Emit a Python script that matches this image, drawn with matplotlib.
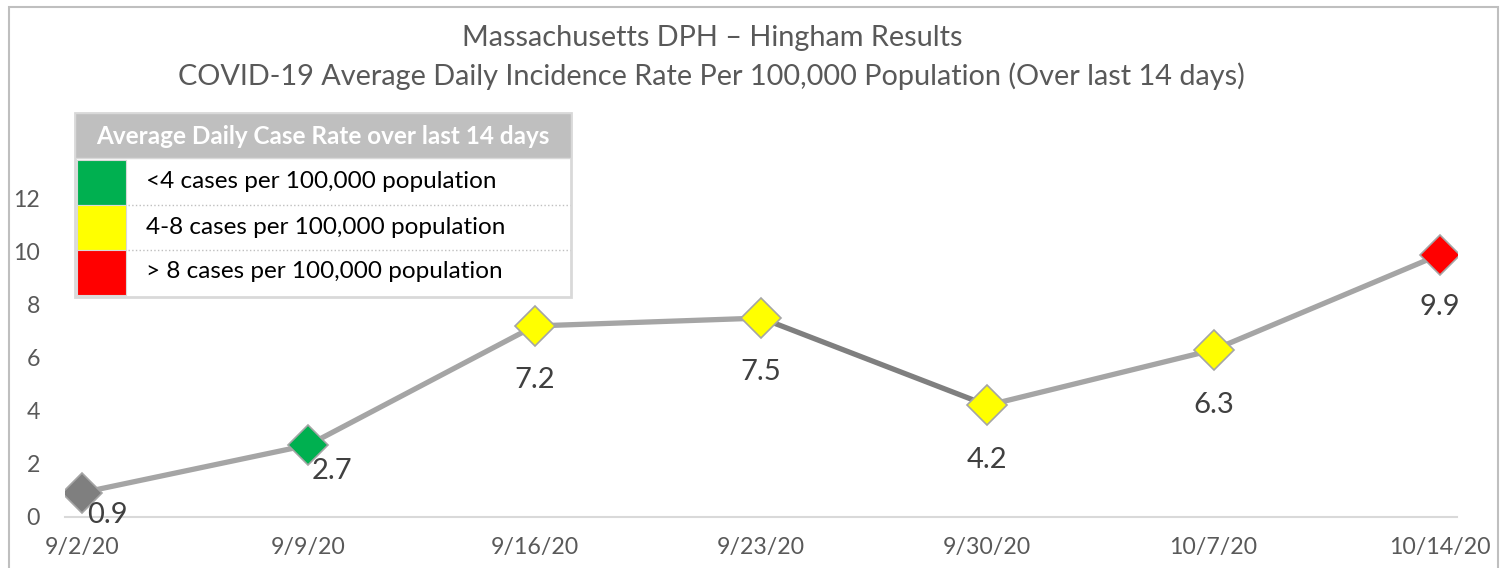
import matplotlib.pyplot as plt
from matplotlib.patches import Rectangle

# chart data
dates = ['9/2/20', '9/9/20', '9/16/20', '9/23/20', '9/30/20', '10/7/20', '10/14/20']
rates = [0.9, 2.7, 7.2, 7.5, 4.2, 6.3, 9.9]
point_colors = ['#7F7F7F', '#00B050', '#FFFF00', '#FFFF00', '#FFFF00', '#FFFF00', '#FF0000']
segment_colors = ['#A5A5A5', '#A5A5A5', '#A5A5A5', '#7F7F7F', '#A5A5A5', '#A5A5A5']
label_offsets = [(18, -16), (17, -19), (0, -39), (0, -39), (0, -39), (0, -40), (0, -38)]

legend_title = 'Average Daily Case Rate over last 14 days'
legend_labels = ['<4 cases per 100,000 population',
                 '4-8 cases per 100,000 population',
                 '> 8 cases per 100,000 population']
legend_colors = ['#00B050', '#FFFF00', '#FF0000']

plt.rcParams['font.family'] = ['Lato', 'DejaVu Sans']

W, H = 1503, 568
fig = plt.figure(figsize=(W / 100, H / 100), dpi=100)


def fx(px):
    return px / W


def fy(py):
    return 1 - py / H


# outer frame
fig.patches.append(Rectangle((fx(9), fy(600)), fx(1498) - fx(9), fy(7) - fy(600),
                             transform=fig.transFigure, fill=False,
                             edgecolor='#BFBFBF', linewidth=1.5))

ax = fig.add_axes([fx(65), fy(516.5), fx(1457) - fx(65), fy(172.5) - fy(516.5)])
x = list(range(len(dates)))

for i in range(len(x) - 1):
    ax.plot(x[i:i + 2], rates[i:i + 2], color=segment_colors[i], linewidth=3.8,
            solid_capstyle='butt', zorder=2)
for i in x:
    ax.plot(x[i], rates[i], marker='D', markersize=20, markerfacecolor=point_colors[i],
            markeredgecolor='#A5A5A5', markeredgewidth=1.2, zorder=3)
    ax.annotate(f'{rates[i]:.1f}', (x[i], rates[i]), xytext=label_offsets[i],
                textcoords='offset points', ha='center', va='center',
                fontsize=21, color='#404040', zorder=4)

ax.set_xlim(-0.075, 6.075)
ax.set_ylim(0, 13)
ax.set_yticks(range(0, 13, 2))
ax.set_xticks(x)
ax.set_xticklabels(dates)
for s in ['top', 'right', 'left']:
    ax.spines[s].set_visible(False)
ax.spines['bottom'].set_color('#D9D9D9')
ax.spines['bottom'].set_linewidth(1.5)
ax.tick_params(length=0, labelsize=16.7, labelcolor='#595959')
ax.tick_params(axis='x', pad=15)
ax.tick_params(axis='y', pad=18)
ax.patch.set_alpha(0)

# title
fig.text(fx(712), fy(38), 'Massachusetts DPH \u2013 Hingham Results', ha='center', va='center',
         fontsize=20.8, color='#595959')
fig.text(fx(711), fy(76), 'COVID-19 Average Daily Incidence Rate Per 100,000 Population (Over last 14 days)',
         ha='center', va='center', fontsize=20.8, color='#595959')

# legend table
tl, tr = 75, 571
fig.patches.append(Rectangle((fx(tl), fy(297)), fx(tr) - fx(tl), fy(113) - fy(297),
                             transform=fig.transFigure, facecolor='white',
                             edgecolor='#D9D9D9', linewidth=2, zorder=5))
fig.patches.append(Rectangle((fx(tl), fy(158)), fx(tr) - fx(tl), fy(113) - fy(158),
                             transform=fig.transFigure, facecolor='#BFBFBF',
                             edgecolor='#D9D9D9', linewidth=1, zorder=6))
fig.text(fx(323), fy(136), legend_title, ha='center', va='center', fontsize=17.5,
         fontweight='bold', color='white', zorder=7)
row_top = [160, 205, 250]
for i, (lab, col) in enumerate(zip(legend_labels, legend_colors)):
    t = row_top[i]
    fig.patches.append(Rectangle((fx(77), fy(t + 45)), fx(126) - fx(77), fy(t) - fy(t + 45),
                                 transform=fig.transFigure, facecolor=col,
                                 edgecolor='#D9D9D9', linewidth=0.8, zorder=6))
    fig.text(fx(146), fy(t + 22), lab, ha='left', va='center', fontsize=17.5,
             color='black', zorder=7)
    if i > 0:
        fig.lines.append(plt.Line2D([fx(128), fx(570)], [fy(t), fy(t)],
                                    transform=fig.transFigure, color='#BFBFBF',
                                    linestyle=':', linewidth=1, zorder=6))

fig.savefig('out.png', dpi=100)
